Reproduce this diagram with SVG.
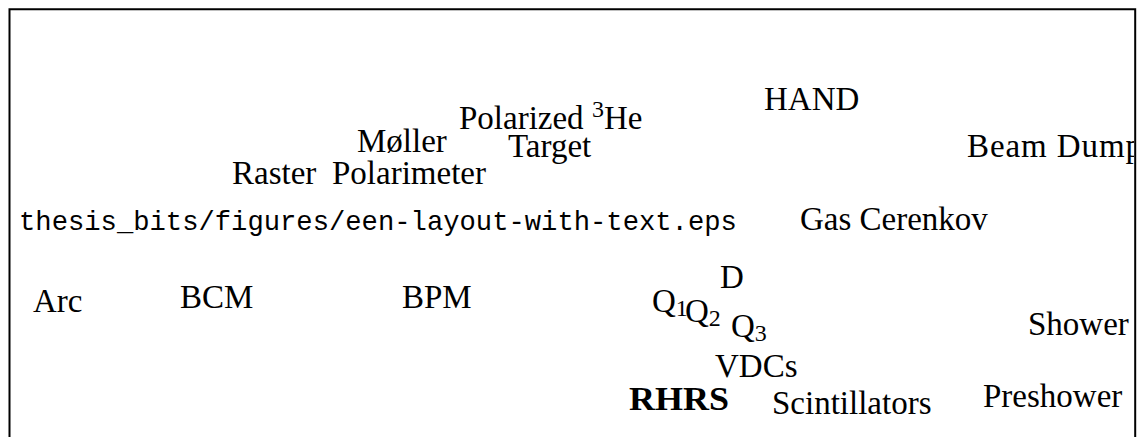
<svg xmlns="http://www.w3.org/2000/svg" width="1137" height="437" viewBox="0 0 1137 437">
<style>
.t{font-family:"Liberation Serif","Times New Roman",serif;font-size:33px;fill:#000}
.b{font-weight:bold}
.m{font-family:"Liberation Mono","Courier New",monospace;font-size:27.2px;fill:#000}
.s{font-size:24px}
.frame{fill:none;stroke:#000;stroke-width:2}
</style>
<defs>
<clipPath id="inside"><rect x="10" y="10" width="1124" height="427"/></clipPath>
</defs>
<rect width="1137" height="437" fill="#fff"/>
<g id="labels" clip-path="url(#inside)">
<g id="hand"><text class="t" x="764" y="110">HAND</text></g>
<g id="polarized-target"><text class="t" x="459" y="129">Polarized <tspan class="s" dy="-12">3</tspan><tspan dy="12">He</tspan></text>
<text class="t" x="508" y="157">Target</text></g>
<g id="moller"><text class="t" x="357" y="152">Møller</text>
<text class="t" x="332" y="184">Polarimeter</text></g>
<g id="raster"><text class="t" x="232" y="184">Raster</text></g>
<g id="beam-dump"><text class="t" x="967" y="157" textLength="175">Beam Dump</text></g>
<g id="filename"><text class="m" x="19" y="230">thesis_bits/figures/een-layout-with-text.eps</text></g>
<g id="gas-cerenkov"><text class="t" x="800" y="230">Gas Cerenkov</text></g>
<g id="arc"><text class="t" x="33" y="312">Arc</text></g>
<g id="bcm"><text class="t" x="180" y="308">BCM</text></g>
<g id="bpm"><text class="t" x="402" y="308">BPM</text></g>
<g id="dipole"><text class="t" x="720" y="288">D</text></g>
<g id="q1"><text class="t" x="652" y="312">Q<tspan class="s" dy="4">1</tspan></text></g>
<g id="q2"><text class="t" x="685" y="322">Q<tspan class="s" dy="4">2</tspan></text></g>
<g id="q3"><text class="t" x="731" y="337">Q<tspan class="s" dy="4">3</tspan></text></g>
<g id="vdcs"><text class="t" x="715" y="377">VDCs</text></g>
<g id="rhrs"><text class="t b" x="629" y="410" textLength="100" lengthAdjust="spacingAndGlyphs">RHRS</text></g>
<g id="scintillators"><text class="t" x="772" y="414">Scintillators</text></g>
<g id="shower"><text class="t" x="1028" y="335">Shower</text></g>
<g id="preshower"><text class="t" x="983" y="407">Preshower</text></g>
</g>
<g id="connectors"/>
<path id="frame" class="frame" d="M9.5,437 V9.2 H1135.2 V437"/>
</svg>
